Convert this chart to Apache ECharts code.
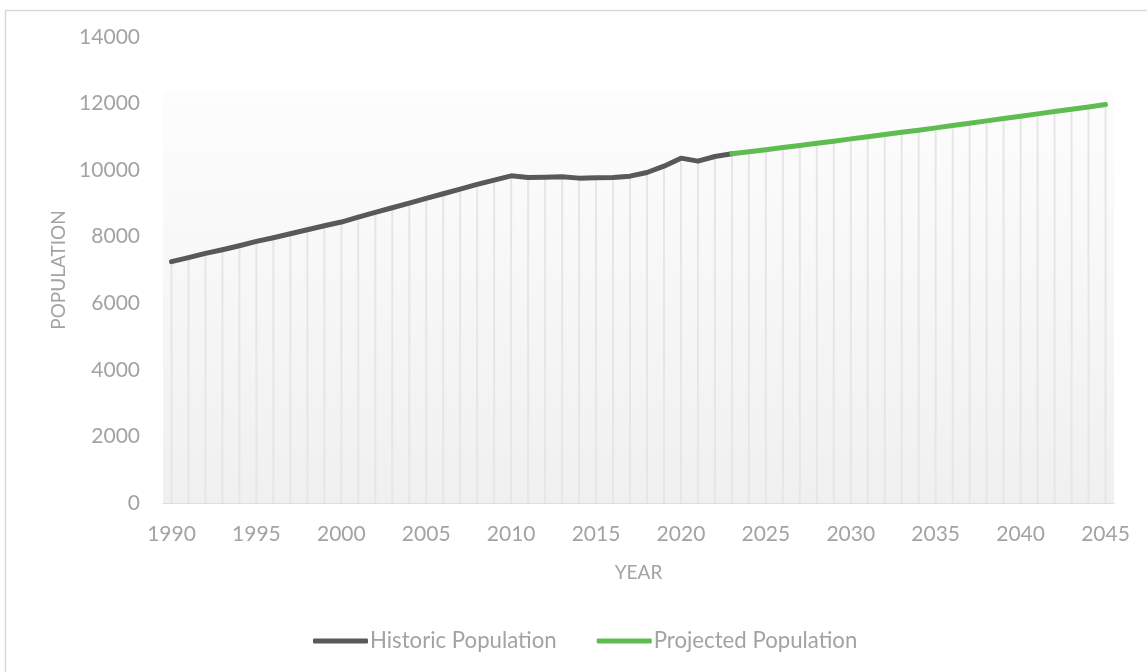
<!DOCTYPE html>
<html>
<head>
<meta charset="utf-8">
<script src="https://cdn.jsdelivr.net/npm/echarts@6/dist/echarts.min.js"></script>
<style>html,body{margin:0;padding:0;background:#fff;}#c{width:1147px;height:672px;}</style>
</head>
<body>
<div id="c"></div>
<script>
const years = [];
for (let y = 1990; y <= 2045; y++) years.push(String(y));

const historicYears = ['1990','1991','1992','1993','1994','1995','1996','1997','1998','1999','2000','2001','2002','2003','2004','2005','2006','2007','2008','2009','2010','2011','2012','2013','2014','2015','2016','2017','2018','2019','2020','2021','2022','2023'];
const historicValues = [7250,7370,7500,7610,7730,7860,7970,8090,8210,8330,8440,8590,8730,8870,9010,9150,9290,9430,9570,9700,9830,9780,9790,9800,9760,9770,9780,9820,9930,10120,10360,10270,10410,10490];

const projectedYears = ['2023','2024','2025','2026','2027','2028','2029','2030','2031','2032','2033','2034','2035','2036','2037','2038','2039','2040','2041','2042','2043','2044','2045'];
const projectedValues = [10490,10550,10610,10680,10740,10810,10870,10940,11000,11070,11140,11200,11270,11340,11410,11480,11550,11620,11690,11760,11830,11900,11970];

const yTicks = {min: 0, max: 14000, interval: 2000};

const mapTo = (ys, vs) => years.map(y => { const i = ys.indexOf(y); return i >= 0 ? vs[i] : null; });
const histSeries = mapTo(historicYears, historicValues);
const projSeries = mapTo(projectedYears, projectedValues);
const dropSeries = years.map((y, i) => histSeries[i] != null ? histSeries[i] : projSeries[i]);

const FONT = 'Lato';
const GREY = '#a3a3a3';

const chart = echarts.init(document.getElementById('c'));
chart.setOption({
  backgroundColor: '#ffffff',
  animation: false,
  graphic: [{
    type: 'rect', left: 3, top: 8, shape: {width: 1170, height: 700},
    style: {fill: 'none', stroke: '#d9d9d9', lineWidth: 1.5}, silent: true, z: -10
  }],
  grid: {left: 163, right: 33, top: 37, bottom: 169},
  legend: {
    bottom: 15, left: 308, itemWidth: 55, itemHeight: 5, itemGap: 40,
    icon: 'roundRect',
    textStyle: {color: GREY, fontSize: 22.2, fontFamily: FONT, padding: [0,0,0,-3]},
    data: ['Historic Population', 'Projected Population']
  },
  xAxis: {
    type: 'category', data: years, boundaryGap: true,
    name: 'YEAR', nameLocation: 'middle', nameGap: 60,
    nameTextStyle: {color: GREY, fontSize: 19, fontFamily: FONT},
    axisLine: {show: true, lineStyle: {color: '#dedede', width: 1}},
    axisTick: {show: false},
    axisLabel: {interval: 4, color: GREY, fontSize: 21, fontFamily: FONT, margin: 21},
    splitLine: {show: false}
  },
  yAxis: {
    type: 'value', min: yTicks.min, max: yTicks.max, interval: yTicks.interval,
    name: 'POPULATION', nameLocation: 'middle', nameGap: 90, nameRotate: 90,
    nameTextStyle: {color: GREY, fontSize: 19, fontFamily: FONT},
    axisLine: {show: false}, axisTick: {show: false},
    axisLabel: {color: GREY, fontSize: 21, fontFamily: FONT, margin: 23, formatter: v => String(v)},
    splitLine: {show: false}
  },
  series: [
    {
      name: 'drop', type: 'bar', data: dropSeries, barWidth: 2, silent: true,
      itemStyle: {color: '#e6e6e6'}, z: 1,
      markArea: {
        silent: true,
        itemStyle: {
          color: new echarts.graphic.LinearGradient(0, 0, 0, 1, [
            {offset: 0, color: '#fdfdfd'}, {offset: 1, color: '#f0f0f0'}
          ])
        },
        data: [[{yAxis: 0}, {yAxis: 12380}]]
      }
    },
    {
      name: 'Historic Population', type: 'line', data: histSeries, showSymbol: false,
      lineStyle: {color: '#595959', width: 5, cap: 'round', join: 'round'},
      itemStyle: {color: '#595959'}, z: 3
    },
    {
      name: 'Projected Population', type: 'line', data: projSeries, showSymbol: false,
      lineStyle: {color: '#5ebc50', width: 5, cap: 'round', join: 'round'},
      itemStyle: {color: '#5ebc50'}, z: 4
    }
  ]
});
</script>
</body>
</html>
